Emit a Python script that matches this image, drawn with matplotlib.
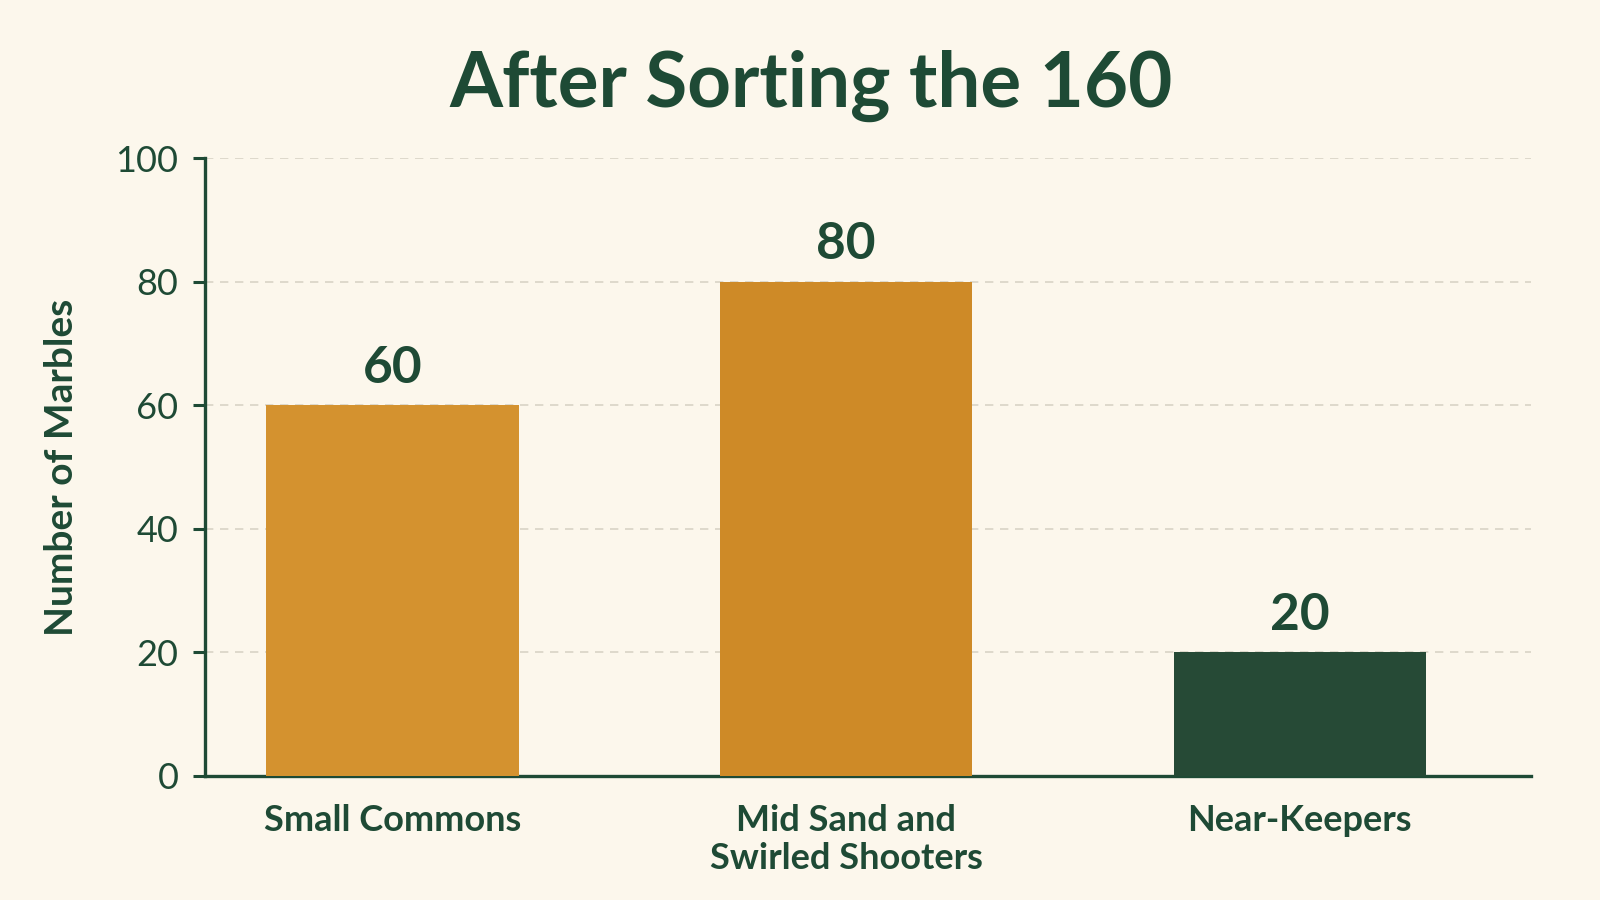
import matplotlib.pyplot as plt

categories = ['Small Commons', 'Mid Sand and\nSwirled Shooters', 'Near-Keepers']
counts = [60, 80, 20]
bar_colors = ['#D4922F', '#CE8A27', '#264A36']
y_ticks = [0, 20, 40, 60, 80, 100]

bg = '#FCF7EC'
ink = '#1E4A35'

plt.rcParams['font.family'] = ['Lato', 'DejaVu Sans']

fig = plt.figure(figsize=(16, 9), dpi=100, facecolor=bg)
ax = fig.add_axes([0.128, 0.138, 0.829, 0.686])
ax.set_facecolor(bg)

x = range(len(categories))
bars = ax.bar(x, counts, width=0.556, color=bar_colors, zorder=3)

for rect, v in zip(bars, counts):
    ax.text(rect.get_x() + rect.get_width() / 2, v + 2.2, str(v),
            ha='center', va='bottom', fontsize=37, fontweight='bold', color=ink)

ax.set_xlim(-0.414, 2.51)
ax.set_ylim(0, 100)
ax.set_yticks(y_ticks)
ax.set_xticks(list(x))
ax.set_xticklabels(categories, fontsize=26, fontweight='bold', color=ink, linespacing=1.2)
ax.tick_params(axis='x', length=0, pad=20)
ax.tick_params(axis='y', length=9, width=2.2, color=ink, labelsize=26, labelcolor=ink, pad=10)

ax.grid(axis='y', color='#D8D3C6', linestyle=(0, (5, 4)), linewidth=1.2, zorder=0)
for side in ['top', 'right']:
    ax.spines[side].set_visible(False)
for side in ['left', 'bottom']:
    ax.spines[side].set_color(ink)
    ax.spines[side].set_linewidth(2.4)

ax.set_ylabel('Number of Marbles', fontsize=28, fontweight='bold', color=ink, labelpad=26)

fig.text(0.507, 0.905, 'After Sorting the 160', ha='center', va='center',
         fontsize=55, fontweight='bold', color=ink)

fig.savefig('out.png', dpi=100, facecolor=bg)
